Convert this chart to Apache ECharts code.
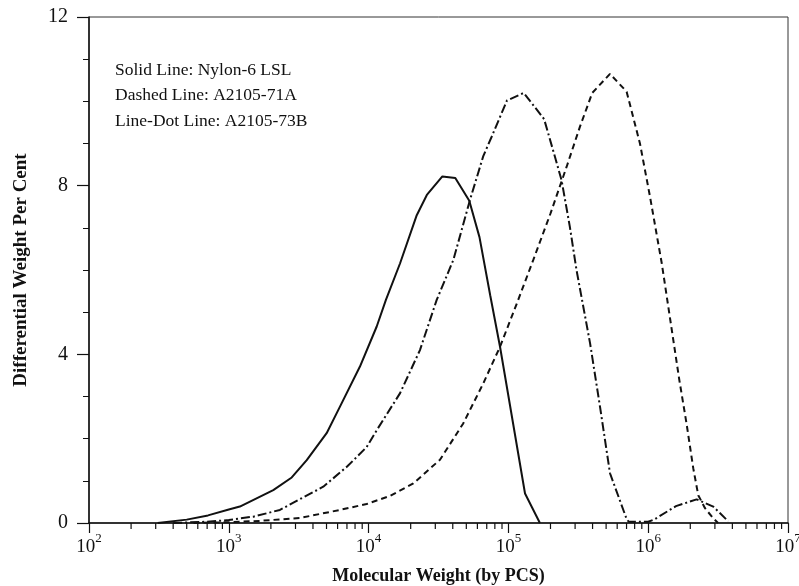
<!DOCTYPE html>
<html>
<head>
<meta charset="utf-8">
<script src="https://cdn.jsdelivr.net/npm/echarts@6/dist/echarts.min.js"></script>
<style>
  html, body { margin: 0; padding: 0; background: #fff; }
  #chart { width: 799px; height: 586px; }
</style>
</head>
<body>
<div id="chart"></div>
<script>
// Molecular weight (by PCS) and differential weight per cent
const solidMW = [310, 500, 710, 1000, 1200, 2080, 2820, 3610, 5010, 6240, 8670, 11430, 13300, 16800, 22100, 26100, 33700, 41700, 52500, 62100, 74100, 87100, 131500, 168000];
const solidPct = [0, 0.08, 0.18, 0.32, 0.39, 0.78, 1.08, 1.49, 2.13, 2.76, 3.71, 4.66, 5.29, 6.16, 7.30, 7.78, 8.22, 8.18, 7.64, 6.78, 5.40, 4.18, 0.70, 0];

const dashedMW = [560, 1000, 1660, 3240, 6240, 9680, 14200, 20900, 32400, 47500, 66100, 87100, 115000, 150700, 200000, 261000, 325000, 398000, 533000, 701000, 873000, 1030000, 1250000, 1670000, 1880000, 2100000, 2280000, 2550000, 2920000, 3160000];
const dashedPct = [0, 0.02, 0.05, 0.12, 0.31, 0.45, 0.64, 0.94, 1.5, 2.36, 3.31, 4.18, 5.21, 6.24, 7.34, 8.45, 9.4, 10.2, 10.65, 10.23, 9.0, 7.74, 6.16, 3.39, 2.36, 1.3, 0.66, 0.35, 0.11, 0];

const dotMW = [400, 700, 1000, 1200, 1500, 2320, 3160, 4740, 7080, 9680, 11430, 16800, 23300, 30700, 40400, 53100, 66100, 75900, 97700, 128800, 180000, 215000, 240000, 275000, 307000, 384000, 452000, 533000, 700000, 725000, 1000000, 1100000, 1580000, 2220000, 2920000, 3740000];
const dotPct = [0, 0.03, 0.07, 0.11, 0.15, 0.31, 0.55, 0.86, 1.35, 1.8, 2.2, 3.08, 4.1, 5.29, 6.24, 7.66, 8.7, 9.16, 10.02, 10.2, 9.58, 8.69, 8.13, 7.03, 6.0, 4.26, 2.76, 1.18, 0.1, 0.03, 0.03, 0.08, 0.4, 0.56, 0.39, 0.04];

// Minor tick positions on the log axis
const minorTickValues = [
    200, 300, 400, 500, 600, 700, 800, 900,
    2000, 3000, 4000, 5000, 6000, 7000, 8000, 9000,
    20000, 30000, 40000, 50000, 60000, 70000, 80000, 90000,
    200000, 300000, 400000, 500000, 600000, 700000, 800000, 900000,
    2000000, 3000000, 4000000, 5000000, 6000000, 7000000, 8000000, 9000000
];

const legendLines = [
    'Solid Line: Nylon-6 LSL',
    'Dashed Line: A2105-71A',
    'Line-Dot Line: A2105-73B'
];

const serif = '"Liberation Serif", "Times New Roman", serif';
const ink = '#111';

function pairs(xs, ys) {
    return xs.map(function (x, i) {
        return [x, ys[i]];
    });
}

const chart = echarts.init(document.getElementById('chart'), null, { renderer: 'canvas' });

const option = {
    animation: false,
    backgroundColor: '#fff',
    grid: {
        left: 89,
        right: 11,
        top: 17,
        bottom: 63,
        outerBoundsMode: 'none',
        containLabel: false,
        show: true,
        borderColor: '#333',
        borderWidth: 1
    },
    graphic: legendLines.map(function (text, i) {
        return {
            type: 'text',
            left: 115,
            top: 61 + i * 25.8,
            style: {
                text: text,
                font: '17.5px ' + serif,
                fill: ink
            }
        };
    }),
    xAxis: {
        type: 'log',
        logBase: 10,
        min: 100,
        max: 10000000,
        name: 'Molecular Weight (by PCS)',
        nameLocation: 'middle',
        nameGap: 44,
        nameTextStyle: {
            fontFamily: serif,
            fontWeight: 'bold',
            fontSize: 18,
            color: ink
        },
        axisLine: { lineStyle: { color: ink, width: 1.5 } },
        axisTick: { inside: false, length: 10, lineStyle: { color: ink, width: 1.2 } },
        axisLabel: {
            margin: 9,
            formatter: function (value) {
                const exp = Math.round(Math.log10(value));
                return '{b|10}{s|' + exp + '}';
            },
            rich: {
                b: { fontFamily: serif, fontSize: 19, color: ink, verticalAlign: 'bottom', lineHeight: 25 },
                s: { fontFamily: serif, fontSize: 13, color: ink, verticalAlign: 'top', lineHeight: 14 }
            }
        },
        splitLine: { show: false }
    },
    yAxis: {
        type: 'value',
        min: 0,
        max: 12,
        interval: 4,
        name: 'Differential Weight Per Cent',
        nameLocation: 'middle',
        nameGap: 58,
        nameTextStyle: {
            fontFamily: serif,
            fontWeight: 'bold',
            fontSize: 19,
            color: ink
        },
        axisLine: { show: true, lineStyle: { color: ink, width: 1.5 } },
        axisTick: { show: true, inside: false, length: 12, lineStyle: { color: ink, width: 1.2 } },
        minorTick: { show: true, splitNumber: 4, length: 6, lineStyle: { color: ink, width: 1 } },
        axisLabel: {
            margin: 21,
            fontFamily: serif,
            fontSize: 20,
            color: ink
        },
        splitLine: { show: false }
    },
    series: [
        {
            name: 'Nylon-6 LSL',
            type: 'line',
            data: pairs(solidMW, solidPct),
            showSymbol: false,
            symbol: 'none',
            lineStyle: { color: ink, width: 2, type: 'solid' }
        },
        {
            name: 'A2105-71A',
            type: 'line',
            data: pairs(dashedMW, dashedPct),
            showSymbol: false,
            symbol: 'none',
            lineStyle: { color: ink, width: 2, type: [6, 4] }
        },
        {
            name: 'A2105-73B',
            type: 'line',
            data: pairs(dotMW, dotPct),
            showSymbol: false,
            symbol: 'none',
            lineStyle: { color: ink, width: 2, type: [9, 3, 2, 3] }
        },
        {
            // minor ticks for the log x axis
            type: 'custom',
            silent: true,
            clip: false,
            data: minorTickValues.map(function (v) { return [v, 0]; }),
            renderItem: function (params, api) {
                const p = api.coord([api.value(0), api.value(1)]);
                return {
                    type: 'line',
                    shape: { x1: p[0], y1: p[1], x2: p[0], y2: p[1] + 6 },
                    style: { stroke: ink, lineWidth: 1.2 }
                };
            }
        }
    ]
};

chart.setOption(option);
</script>
</body>
</html>
